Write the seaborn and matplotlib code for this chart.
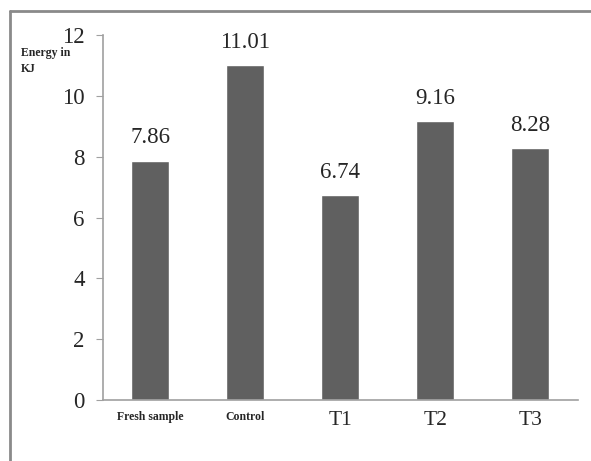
import matplotlib.pyplot as plt
from matplotlib.lines import Line2D
import seaborn as sns

samples = ['Fresh sample', 'Control', 'T1', 'T2', 'T3']
energy = [7.86, 11.01, 6.74, 9.16, 8.28]

sns.set_style("white")
plt.rcParams['font.family'] = ['Liberation Serif', 'DejaVu Serif']

fig = plt.figure(figsize=(5.91, 4.61), dpi=100)
ax = fig.add_axes([0.174, 0.132, 0.804, 0.792])

sns.barplot(x=samples, y=energy, color='#606060', width=0.4, saturation=1, ax=ax)

ax.set_ylim(0, 12)
ax.set_yticks(range(0, 13, 2))
ax.set_xlim(-0.5, 4.5)
ax.set_xlabel('')
ax.set_ylabel('')

for s in ['top', 'right']:
    ax.spines[s].set_visible(False)
for s in ['left', 'bottom']:
    ax.spines[s].set_color('#a0a0a0')
    ax.spines[s].set_linewidth(1.2)

ax.tick_params(axis='y', length=5, color='#a0a0a0', labelsize=16.5, pad=8, left=True)
ax.tick_params(axis='x', length=0, pad=8)

for lbl in ax.get_xticklabels():
    if lbl.get_text() in ('Fresh sample', 'Control'):
        lbl.set_fontsize(8.5)
        lbl.set_fontweight('bold')
    else:
        lbl.set_fontsize(15.5)

for bar, val in zip(ax.patches, energy):
    ax.annotate(f'{val:.2f}', (bar.get_x() + bar.get_width() / 2, val),
                xytext=(0, 9), textcoords='offset points',
                ha='center', va='bottom', fontsize=16.5)

fig.text(21 / 591, 1 - 47 / 461, 'Energy in\nKJ', fontsize=8.5, fontweight='bold',
         ha='left', va='top', linespacing=1.45)

# outer frame (left and top only)
fig.add_artist(Line2D([10 / 591, 10 / 591], [0, 1 - 11 / 461], transform=fig.transFigure,
                      color='#8a8a8a', lw=2))
fig.add_artist(Line2D([10 / 591, 1], [1 - 11 / 461, 1 - 11 / 461], transform=fig.transFigure,
                      color='#8a8a8a', lw=2))

fig.savefig('out.png', dpi=100)
